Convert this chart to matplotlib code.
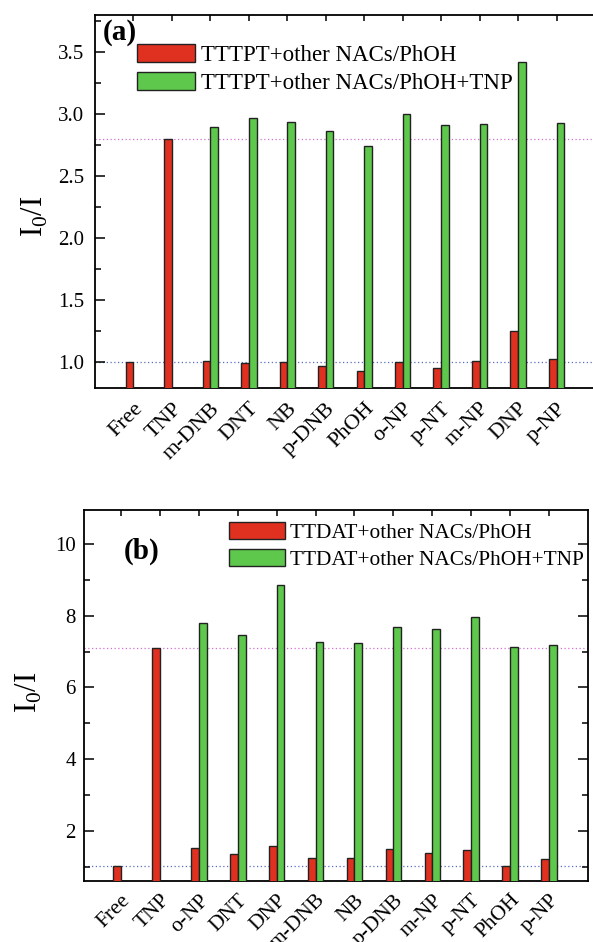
import numpy as np
import matplotlib
matplotlib.use("Agg")
import matplotlib.pyplot as plt
from matplotlib.ticker import MultipleLocator

plt.rcParams['font.family'] = ['Liberation Serif', 'DejaVu Serif']
plt.rcParams['mathtext.fontset'] = 'custom'
plt.rcParams['mathtext.rm'] = 'Liberation Serif'

# panel (a) data
labels_a = ['Free', 'TNP', 'm-DNB', 'DNT', 'NB', 'p-DNB', 'PhOH', 'o-NP',
            'p-NT', 'm-NP', 'DNP', 'p-NP']
red_a = [1.00, 2.80, 1.01, 0.99, 1.00, 0.97, 0.93, 1.00, 0.95, 1.01, 1.25, 1.02]
green_a = [None, None, 2.90, 2.97, 2.94, 2.86, 2.74, 3.00, 2.91, 2.92, 3.42, 2.93]

# panel (b) data
labels_b = ['Free', 'TNP', 'o-NP', 'DNT', 'DNP', 'm-DNB', 'NB', 'p-DNB',
            'm-NP', 'p-NT', 'PhOH', 'p-NP']
red_b = [1.02, 7.11, 1.53, 1.34, 1.59, 1.25, 1.25, 1.48, 1.39, 1.46, 1.03, 1.21]
green_b = [None, None, 7.79, 7.46, 8.87, 7.28, 7.23, 7.68, 7.64, 7.96, 7.14, 7.18]

RED = '#e0301f'
GREEN = '#5dc84b'
w = 0.2

fig = plt.figure(figsize=(5.93, 9.42), dpi=100)
ax1 = fig.add_axes([95/593, 1-388/942, 500/593, 373/942])
ax2 = fig.add_axes([84/593, 1-881/942, 504/593, 371/942])


def draw(ax, labels, red, green, lab_r, lab_g, right=True, xfs=16):
    x = np.arange(len(labels))
    ax.bar(x - w/2, red, w, color=RED, edgecolor='#222222', linewidth=1,
           label=lab_r, zorder=3)
    gx = [i for i, v in enumerate(green) if v is not None]
    gv = [v for v in green if v is not None]
    ax.bar(np.array(gx) + w/2, gv, w, color=GREEN, edgecolor='#222222',
           linewidth=1, label=lab_g, zorder=3)
    # reference lines at Free and TNP levels
    ax.axhline(red[0], color='#5a6cc0', ls=(0, (1, 2)), lw=0.9, zorder=1)
    ax.axhline(red[1], color='#d070d0', ls=(0, (1, 2)), lw=0.9, zorder=1)
    ax.set_xticks(x)
    ax.set_xticklabels(labels, rotation=45, ha='right', va='top',
                       rotation_mode='anchor', fontsize=xfs)
    for s in ax.spines.values():
        s.set_linewidth(1.3)
    ax.tick_params(axis='both', which='both', direction='in', top=True,
                   right=right, width=1.1)
    ax.tick_params(axis='y', which='major', length=7, labelsize=15)
    ax.tick_params(axis='y', which='minor', length=4)
    ax.tick_params(axis='x', which='major', length=4, pad=8)
    ax.set_xlim(-1, 12)
    return ax


draw(ax1, labels_a, red_a, green_a, 'TTTPT+other NACs/PhOH',
     'TTTPT+other NACs/PhOH+TNP', right=False)
ax1.set_ylim(0.79, 3.80)
ax1.yaxis.set_major_locator(MultipleLocator(0.5))
ax1.yaxis.set_minor_locator(MultipleLocator(0.25))
ax1.yaxis.set_major_formatter(plt.FormatStrFormatter('%.1f'))
ax1.tick_params(axis='y', which='major', pad=8)
ax1.set_ylabel('I$_0$/I', fontsize=22)
ax1.yaxis.set_label_coords(-0.09, 0.46)
ax1.text(0.016, 0.99, '(a)', transform=ax1.transAxes, fontsize=21,
         fontweight='bold', va='top', ha='left')
ax1.legend(loc='upper left', bbox_to_anchor=(0.083, 0.922), frameon=False,
           fontsize=16.5, handlelength=2.57, handleheight=0.85,
           handletextpad=0.25, labelspacing=0.25, borderpad=0,
           borderaxespad=0)

draw(ax2, labels_b, red_b, green_b, 'TTDAT+other NACs/PhOH',
     'TTDAT+other NACs/PhOH+TNP', xfs=15.5)
ax2.set_xlim(-0.95, 12)
ax2.set_ylim(0.6, 10.95)
ax2.yaxis.set_major_locator(MultipleLocator(2))
ax2.yaxis.set_minor_locator(MultipleLocator(1))
ax2.tick_params(axis='y', which='major', pad=6)
ax2.tick_params(axis='x', which='major', pad=7)
ax2.set_ylabel('I$_0$/I', fontsize=22)
ax2.yaxis.set_label_coords(-0.08, 0.51)
ax2.text(0.079, 0.925, '(b)', transform=ax2.transAxes, fontsize=21,
         fontweight='bold', va='top', ha='left')
ax2.legend(loc='upper left', bbox_to_anchor=(0.288, 0.967), frameon=False,
           fontsize=15.4, handlelength=2.6, handleheight=0.82,
           handletextpad=0.25, labelspacing=0.3, borderpad=0,
           borderaxespad=0)

fig.savefig('out.png', dpi=100)
